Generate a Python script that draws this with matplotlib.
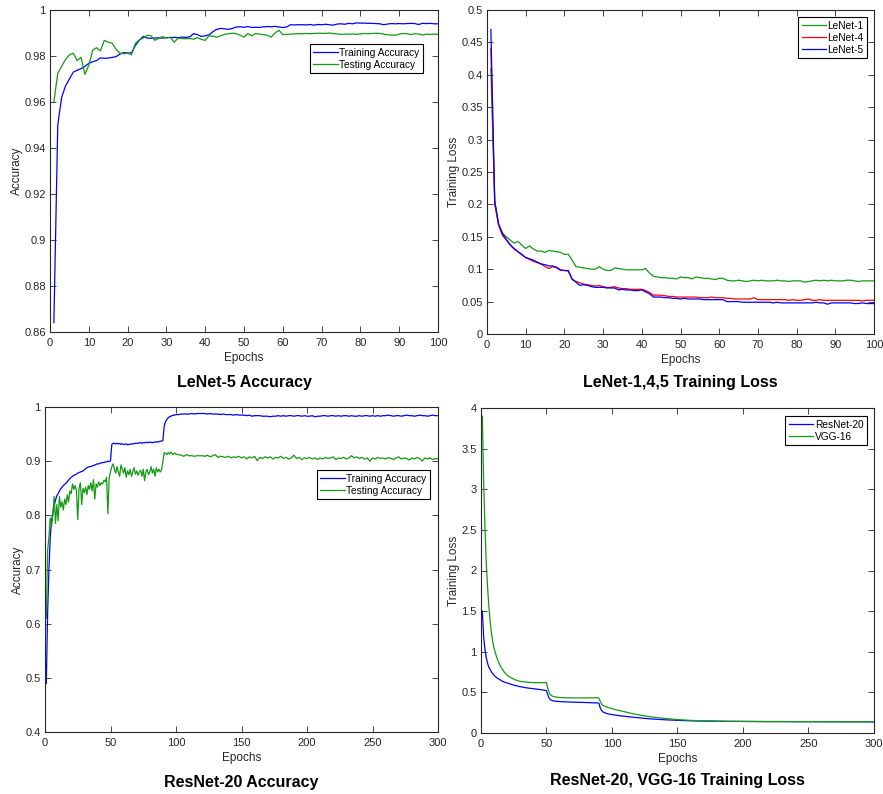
import matplotlib
matplotlib.use("Agg")
import matplotlib.pyplot as plt
from matplotlib.ticker import FuncFormatter

plt.rcParams['font.family'] = ['Liberation Sans', 'DejaVu Sans']

BLUE = '#0000ff'
GREEN = '#139a13'
RED = '#ff0000'

# ---------------- LeNet-5 accuracy (epochs 1..100) ----------------
lenet5_epochs = list(range(1, 101))
lenet5_train_acc = [
    0.864, 0.950, 0.962, 0.967, 0.970, 0.973, 0.9738, 0.9745, 0.9755, 0.9768,
    0.9775, 0.9780, 0.9792, 0.9790, 0.9791, 0.9794, 0.9797, 0.9808, 0.9815, 0.9813,
    0.9814, 0.9845, 0.9868, 0.9885, 0.9878, 0.9877, 0.9878, 0.9879, 0.9878, 0.9880,
    0.9880, 0.9881, 0.9880, 0.9882, 0.9881, 0.9883, 0.9897, 0.9893, 0.9885, 0.9888,
    0.9892, 0.9906, 0.9916, 0.9920, 0.9918, 0.9916, 0.9920, 0.9926, 0.9927, 0.9925,
    0.9928, 0.9924, 0.9925, 0.9924, 0.9927, 0.9928, 0.9927, 0.9929, 0.9926, 0.9924,
    0.9926, 0.9936, 0.9935, 0.9936, 0.9936, 0.9935, 0.9937, 0.9934, 0.9937, 0.9936,
    0.9938, 0.9936, 0.9934, 0.9939, 0.9940, 0.9938, 0.9942, 0.9940, 0.9944, 0.9943,
    0.9943, 0.9942, 0.9942, 0.9941, 0.9940, 0.9936, 0.9939, 0.9941, 0.9940, 0.9941,
    0.9940, 0.9941, 0.9942, 0.9941, 0.9937, 0.9942, 0.9941, 0.9942, 0.9940, 0.9940]
lenet5_test_acc = [
    0.9600, 0.9725, 0.9755, 0.9785, 0.9805, 0.9812, 0.9780, 0.9795, 0.9720, 0.9760,
    0.9825, 0.9836, 0.9822, 0.9868, 0.9860, 0.9856, 0.9830, 0.9812, 0.9810, 0.9812,
    0.9805, 0.9855, 0.9870, 0.9878, 0.9890, 0.9888, 0.9868, 0.9877, 0.9884, 0.9878,
    0.9882, 0.9860, 0.9878, 0.9876, 0.9875, 0.9876, 0.9873, 0.9880, 0.9872, 0.9868,
    0.9888, 0.9886, 0.9882, 0.9888, 0.9894, 0.9897, 0.9899, 0.9897, 0.9890, 0.9882,
    0.9898, 0.9888, 0.9898, 0.9895, 0.9893, 0.9890, 0.9882, 0.9900, 0.9912, 0.9893,
    0.9894, 0.9895, 0.9896, 0.9897, 0.9897, 0.9898, 0.9897, 0.9898, 0.9899, 0.9899,
    0.9898, 0.9900, 0.9897, 0.9896, 0.9894, 0.9895, 0.9895, 0.9896, 0.9894, 0.9896,
    0.9898, 0.9897, 0.9898, 0.9899, 0.9898, 0.9895, 0.9892, 0.9891, 0.9890, 0.9895,
    0.9898, 0.9897, 0.9893, 0.9897, 0.9896, 0.9891, 0.9895, 0.9894, 0.9895, 0.9894]

# ---------------- LeNet-1,4,5 training loss (epochs 1..100) ----------------
lenet_loss_epochs = list(range(1, 101))
lenet1_loss = [
    0.410, 0.205, 0.168, 0.156, 0.150, 0.145, 0.140, 0.143, 0.137, 0.132,
    0.136, 0.131, 0.128, 0.128, 0.126, 0.129, 0.128, 0.127, 0.126, 0.123,
    0.123, 0.114, 0.104, 0.103, 0.102, 0.101, 0.100, 0.100, 0.104, 0.100,
    0.098, 0.098, 0.102, 0.101, 0.100, 0.099, 0.099, 0.099, 0.099, 0.099,
    0.101, 0.094, 0.089, 0.088, 0.087, 0.087, 0.086, 0.086, 0.085, 0.088,
    0.087, 0.087, 0.085, 0.088, 0.087, 0.086, 0.086, 0.085, 0.084, 0.086,
    0.086, 0.083, 0.082, 0.082, 0.083, 0.082, 0.081, 0.082, 0.083, 0.082,
    0.083, 0.082, 0.082, 0.082, 0.083, 0.082, 0.082, 0.081, 0.082, 0.082,
    0.082, 0.080, 0.081, 0.082, 0.083, 0.082, 0.083, 0.082, 0.083, 0.082,
    0.082, 0.082, 0.083, 0.083, 0.082, 0.081, 0.082, 0.082, 0.082, 0.082]
lenet4_loss = [
    0.440, 0.200, 0.168, 0.152, 0.145, 0.137, 0.131, 0.127, 0.122, 0.118,
    0.115, 0.112, 0.110, 0.108, 0.104, 0.101, 0.104, 0.102, 0.098, 0.098,
    0.097, 0.084, 0.081, 0.079, 0.077, 0.076, 0.075, 0.074, 0.075, 0.073,
    0.072, 0.072, 0.073, 0.071, 0.070, 0.070, 0.069, 0.069, 0.069, 0.069,
    0.067, 0.064, 0.060, 0.060, 0.060, 0.059, 0.058, 0.058, 0.057, 0.057,
    0.057, 0.057, 0.057, 0.057, 0.056, 0.056, 0.056, 0.057, 0.056, 0.056,
    0.056, 0.055, 0.055, 0.054, 0.054, 0.054, 0.054, 0.054, 0.056, 0.053,
    0.053, 0.053, 0.053, 0.053, 0.053, 0.053, 0.053, 0.052, 0.053, 0.052,
    0.052, 0.053, 0.054, 0.052, 0.052, 0.053, 0.052, 0.052, 0.052, 0.052,
    0.052, 0.052, 0.052, 0.052, 0.052, 0.052, 0.051, 0.052, 0.052, 0.052]
lenet5_loss = [
    0.470, 0.205, 0.170, 0.155, 0.146, 0.138, 0.132, 0.127, 0.123, 0.118,
    0.116, 0.114, 0.111, 0.108, 0.107, 0.105, 0.105, 0.103, 0.099, 0.098,
    0.098, 0.085, 0.080, 0.075, 0.076, 0.075, 0.073, 0.072, 0.072, 0.072,
    0.071, 0.071, 0.071, 0.068, 0.069, 0.068, 0.068, 0.067, 0.067, 0.068,
    0.065, 0.062, 0.057, 0.057, 0.057, 0.056, 0.056, 0.055, 0.055, 0.054,
    0.055, 0.054, 0.054, 0.054, 0.054, 0.053, 0.053, 0.053, 0.053, 0.053,
    0.053, 0.050, 0.050, 0.050, 0.050, 0.049, 0.049, 0.049, 0.049, 0.049,
    0.049, 0.049, 0.049, 0.048, 0.049, 0.048, 0.048, 0.048, 0.048, 0.048,
    0.048, 0.048, 0.048, 0.048, 0.049, 0.048, 0.048, 0.046, 0.048, 0.048,
    0.048, 0.048, 0.048, 0.048, 0.047, 0.047, 0.048, 0.047, 0.047, 0.047]

# ---------------- ResNet-20 accuracy (epochs 1..100, then every 2) ----------------
resnet_acc_epochs = list(range(1, 101)) + list(range(102, 301, 2))
resnet_train_acc = [
    0.490, 0.620, 0.700, 0.760, 0.790, 0.805, 0.818, 0.828, 0.836, 0.840,
    0.845, 0.849, 0.852, 0.855, 0.857, 0.859, 0.862, 0.865, 0.868, 0.870,
    0.872, 0.874, 0.875, 0.876, 0.878, 0.879, 0.880, 0.881, 0.882, 0.884,
    0.886, 0.888, 0.889, 0.890, 0.890, 0.891, 0.892, 0.893, 0.894, 0.895,
    0.895, 0.896, 0.897, 0.897, 0.898, 0.898, 0.899, 0.900, 0.899, 0.901,
    0.931, 0.933, 0.933, 0.932, 0.933, 0.932, 0.933, 0.931, 0.932, 0.931,
    0.931, 0.932, 0.930, 0.931, 0.931, 0.932, 0.932, 0.932, 0.933, 0.933,
    0.933, 0.934, 0.934, 0.933, 0.934, 0.934, 0.935, 0.934, 0.935, 0.935,
    0.935, 0.934, 0.935, 0.935, 0.936, 0.935, 0.936, 0.937, 0.937, 0.938,
    0.965, 0.973, 0.977, 0.980, 0.982, 0.983, 0.984, 0.985, 0.985, 0.986,
    0.986, 0.987, 0.987, 0.987, 0.987, 0.988, 0.987, 0.988, 0.988, 0.988,
    0.988, 0.987, 0.988, 0.987, 0.987, 0.987, 0.986, 0.987, 0.986, 0.986,
    0.986, 0.985, 0.986, 0.985, 0.985, 0.985, 0.984, 0.985, 0.983, 0.984,
    0.984, 0.984, 0.983, 0.983, 0.983, 0.982, 0.983, 0.983, 0.984, 0.983,
    0.984, 0.983, 0.984, 0.984, 0.983, 0.984, 0.984, 0.983, 0.984, 0.983,
    0.983, 0.984, 0.982, 0.983, 0.983, 0.984, 0.984, 0.983, 0.984, 0.984,
    0.983, 0.984, 0.983, 0.984, 0.984, 0.983, 0.984, 0.983, 0.983, 0.984,
    0.983, 0.984, 0.984, 0.983, 0.984, 0.983, 0.984, 0.983, 0.984, 0.984,
    0.985, 0.984, 0.983, 0.984, 0.984, 0.983, 0.984, 0.985, 0.984, 0.984,
    0.983, 0.984, 0.985, 0.984, 0.984, 0.983, 0.984, 0.985, 0.984, 0.984]
resnet_test_acc = [
    0.610, 0.735, 0.760, 0.795, 0.780, 0.800, 0.835, 0.785, 0.820, 0.790,
    0.835, 0.815, 0.825, 0.810, 0.830, 0.820, 0.838, 0.825, 0.845, 0.840,
    0.858, 0.848, 0.855, 0.845, 0.792, 0.850, 0.860, 0.820, 0.850, 0.842,
    0.852, 0.838, 0.855, 0.848, 0.860, 0.845, 0.866, 0.830, 0.858, 0.852,
    0.862, 0.855, 0.860, 0.858, 0.865, 0.862, 0.870, 0.803, 0.870, 0.880,
    0.890, 0.895, 0.885, 0.878, 0.890, 0.880, 0.872, 0.893, 0.885, 0.878,
    0.888, 0.870, 0.882, 0.875, 0.885, 0.872, 0.880, 0.888, 0.876, 0.882,
    0.874, 0.880, 0.883, 0.872, 0.885, 0.864, 0.880, 0.885, 0.875, 0.880,
    0.890, 0.878, 0.885, 0.872, 0.888, 0.880, 0.885, 0.880, 0.884, 0.900,
    0.916, 0.914, 0.912, 0.916, 0.913, 0.917, 0.914, 0.912, 0.915, 0.913,
    0.912, 0.911, 0.909, 0.912, 0.910, 0.910, 0.909, 0.910, 0.910, 0.910,
    0.909, 0.911, 0.908, 0.910, 0.912, 0.907, 0.909, 0.908, 0.907, 0.909,
    0.906, 0.908, 0.907, 0.909, 0.906, 0.908, 0.904, 0.908, 0.906, 0.909,
    0.901, 0.907, 0.905, 0.908, 0.906, 0.908, 0.904, 0.907, 0.906, 0.909,
    0.905, 0.907, 0.904, 0.906, 0.911, 0.905, 0.907, 0.903, 0.906, 0.905,
    0.907, 0.904, 0.906, 0.903, 0.906, 0.904, 0.907, 0.905, 0.906, 0.908,
    0.903, 0.906, 0.905, 0.907, 0.904, 0.906, 0.910, 0.906, 0.908, 0.905,
    0.907, 0.904, 0.906, 0.900, 0.906, 0.904, 0.907, 0.905, 0.906, 0.904,
    0.907, 0.905, 0.903, 0.906, 0.908, 0.904, 0.906, 0.905, 0.902, 0.906,
    0.904, 0.907, 0.905, 0.900, 0.906, 0.904, 0.906, 0.903, 0.905, 0.904]

# ---------------- ResNet-20, VGG-16 training loss ----------------
big_loss_epochs = [1, 2, 3, 4, 5, 6, 7, 8, 9, 10, 12, 14, 16, 18, 20, 23, 26, 30, 35, 40,
                   45, 49, 50, 51, 52, 53, 55, 58, 62, 66, 70, 75, 80, 85, 89, 90, 91, 92,
                   93, 95, 98, 102, 106, 110, 115, 120, 125, 130, 140, 150, 160, 170, 180,
                   190, 200, 210, 220, 230, 240, 250, 260, 270, 280, 290, 300]
resnet20_loss = [1.50, 1.19, 1.03, 0.93, 0.86, 0.81, 0.78, 0.75, 0.73, 0.71, 0.68, 0.66,
                 0.64, 0.625, 0.615, 0.60, 0.585, 0.57, 0.555, 0.545, 0.535, 0.525, 0.52,
                 0.47, 0.43, 0.41, 0.395, 0.39, 0.385, 0.382, 0.38, 0.378, 0.375, 0.372,
                 0.37, 0.365, 0.31, 0.28, 0.26, 0.245, 0.232, 0.222, 0.212, 0.205, 0.196,
                 0.188, 0.18, 0.173, 0.163, 0.156, 0.15, 0.147, 0.145, 0.143, 0.142,
                 0.141, 0.14, 0.14, 0.139, 0.139, 0.138, 0.138, 0.137, 0.137, 0.137]
vgg16_loss = [3.90, 3.10, 2.55, 2.10, 1.80, 1.56, 1.37, 1.23, 1.12, 1.04, 0.93, 0.85,
              0.79, 0.745, 0.71, 0.68, 0.655, 0.635, 0.625, 0.62, 0.62, 0.62, 0.625,
              0.55, 0.50, 0.47, 0.45, 0.44, 0.435, 0.433, 0.432, 0.432, 0.432, 0.433,
              0.435, 0.43, 0.39, 0.36, 0.34, 0.325, 0.31, 0.29, 0.275, 0.26, 0.24,
              0.225, 0.21, 0.198, 0.18, 0.165, 0.155, 0.15, 0.146, 0.144, 0.143,
              0.142, 0.141, 0.141, 0.14, 0.14, 0.14, 0.14, 0.14, 0.14, 0.14]

W, H = 883, 794
fig = plt.figure(figsize=(W / 100, H / 100), dpi=100)

TICK_FS = 8
LABEL_FS = 8.5
LEG_FS = 7.3
TITLE_FS = 11.5
LW = 0.9


def make_axes(x0, y0, x1, y1):
    return fig.add_axes([x0 / W, 1 - y1 / H, (x1 - x0) / W, (y1 - y0) / H])


def style(ax):
    ax.tick_params(direction='in', top=True, right=True, length=4, width=0.6,
                   labelsize=TICK_FS, colors='#262626')
    ax.tick_params(axis='x', pad=4)
    ax.tick_params(axis='y', pad=3)
    for s in ax.spines.values():
        s.set_linewidth(0.8)
        s.set_color('#262626')
    ax.yaxis.set_major_formatter(FuncFormatter(lambda v, p: f"{v:g}"))
    ax.set_xlabel('Epochs', fontsize=LABEL_FS, labelpad=3, color='#262626')


def legend(ax, right, top):
    lg = ax.legend(loc='upper right', bbox_to_anchor=(right, top), fontsize=LEG_FS,
                   fancybox=False, edgecolor='black', framealpha=1,
                   borderpad=0.35, handlelength=2.4, handletextpad=0.15,
                   labelspacing=0.2, borderaxespad=0)
    lg.get_frame().set_linewidth(0.8)


# Top-left
ax1 = make_axes(50, 10, 438, 332)
ax1.plot(lenet5_epochs, lenet5_train_acc, color=BLUE, lw=LW, label='Training Accuracy')
ax1.plot(lenet5_epochs, lenet5_test_acc, color=GREEN, lw=LW, label='Testing Accuracy')
ax1.set_xlim(0, 100)
ax1.set_ylim(0.86, 1.0)
ax1.set_xticks(range(0, 101, 10))
ax1.set_yticks([0.86, 0.88, 0.9, 0.92, 0.94, 0.96, 0.98, 1.0])
ax1.set_ylabel('Accuracy', fontsize=LABEL_FS, labelpad=1, color='#262626')
style(ax1)
legend(ax1, 0.961, 0.894)
fig.text((50 + 438) / 2 / W, 1 - 383 / H, 'LeNet-5 Accuracy', ha='center', va='center',
         fontsize=TITLE_FS, fontweight='bold')

# Top-right
ax2 = make_axes(487, 10, 874, 334)
ax2.plot(lenet_loss_epochs, lenet1_loss, color=GREEN, lw=LW, label='LeNet-1')
ax2.plot(lenet_loss_epochs, lenet4_loss, color=RED, lw=LW, label='LeNet-4')
ax2.plot(lenet_loss_epochs, lenet5_loss, color=BLUE, lw=LW, label='LeNet-5')
ax2.set_xlim(0, 100)
ax2.set_ylim(0, 0.5)
ax2.set_xticks(range(0, 101, 10))
ax2.set_yticks([0, 0.05, 0.1, 0.15, 0.2, 0.25, 0.3, 0.35, 0.4, 0.45, 0.5])
ax2.set_ylabel('Training Loss', fontsize=LABEL_FS, labelpad=1, color='#262626')
style(ax2)
legend(ax2, 0.982, 0.978)
fig.text((487 + 874) / 2 / W, 1 - 383 / H, 'LeNet-1,4,5 Training Loss', ha='center',
         va='center', fontsize=TITLE_FS, fontweight='bold')

# Bottom-left
ax3 = make_axes(45, 407, 438, 732)
ax3.plot(resnet_acc_epochs, resnet_train_acc, color=BLUE, lw=LW, label='Training Accuracy')
ax3.plot(resnet_acc_epochs, resnet_test_acc, color=GREEN, lw=LW, label='Testing Accuracy')
ax3.set_xlim(0, 300)
ax3.set_ylim(0.4, 1.0)
ax3.set_xticks(range(0, 301, 50))
ax3.set_yticks([0.4, 0.5, 0.6, 0.7, 0.8, 0.9, 1.0])
ax3.set_ylabel('Accuracy', fontsize=LABEL_FS, labelpad=1, color='#262626')
style(ax3)
legend(ax3, 0.98, 0.806)
fig.text((45 + 438) / 2 / W, 1 - 782 / H, 'ResNet-20 Accuracy', ha='center', va='center',
         fontsize=TITLE_FS, fontweight='bold')

# Bottom-right
ax4 = make_axes(481, 408, 874, 733)
ax4.plot(big_loss_epochs, resnet20_loss, color=BLUE, lw=LW, label='ResNet-20')
ax4.plot(big_loss_epochs, vgg16_loss, color=GREEN, lw=LW, label='VGG-16')
ax4.set_xlim(0, 300)
ax4.set_ylim(0, 4)
ax4.set_xticks(range(0, 301, 50))
ax4.set_yticks([0, 0.5, 1, 1.5, 2, 2.5, 3, 3.5, 4])
ax4.set_ylabel('Training Loss', fontsize=LABEL_FS, labelpad=1, color='#262626')
style(ax4)
legend(ax4, 0.982, 0.975)
fig.text((481 + 874) / 2 / W, 1 - 781 / H, 'ResNet-20, VGG-16 Training Loss', ha='center',
         va='center', fontsize=TITLE_FS, fontweight='bold')

fig.savefig('out.png', dpi=100)
